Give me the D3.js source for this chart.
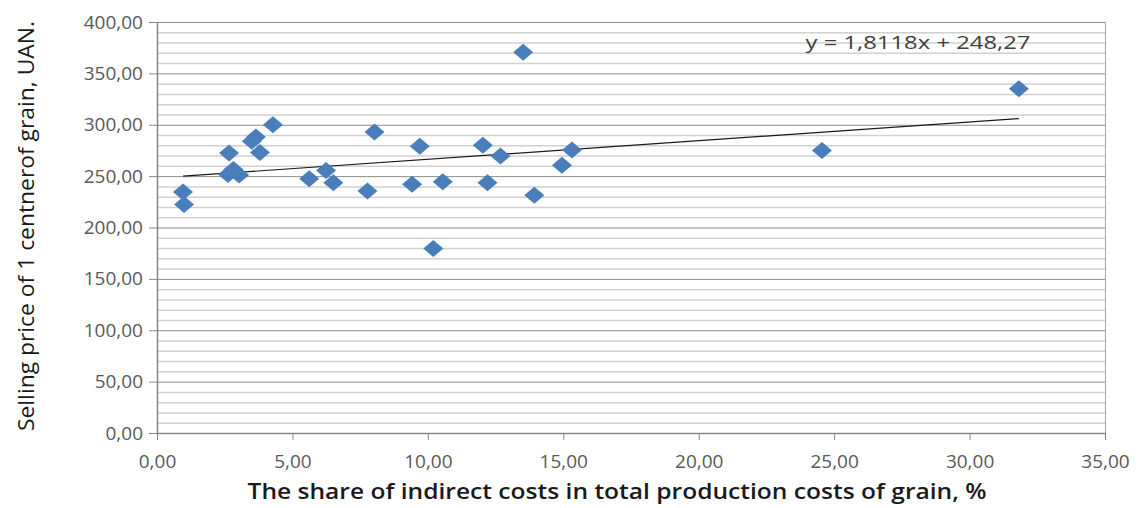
<!DOCTYPE html>
<html lang="en">
<head>
  <meta charset="utf-8">
  <title>Selling price vs indirect costs</title>
  <script src="https://d3js.org/d3.v7.min.js"></script>
  <style>
    body { margin: 0; background: #fff; }
    .axis path, .axis line { stroke: #868686; }
  </style>
</head>
<body>
  <div id="chart"></div>
  <script>
    "use strict"

    // share of indirect costs, %
    var shareValues = [0.96, 1.0, 2.62, 2.66, 2.82, 3.03, 3.5, 3.65, 3.8, 4.28,
                       5.62, 6.24, 6.51, 7.77, 8.03, 9.42, 9.7, 10.55, 10.2, 12.03,
                       12.2, 12.68, 13.52, 13.93, 14.95, 15.32, 24.55, 31.82];
    // selling price of 1 centner, UAN
    var priceValues = [234.5, 222.5, 251.5, 272.5, 256.5, 251, 284, 288, 273, 300,
                       247.5, 255.5, 243.5, 235.5, 293, 242, 279, 244.5, 179.5, 280,
                       243.5, 269.5, 370.5, 231.5, 260.5, 275.5, 275, 335];
    var trend = { slope: 1.8118, intercept: 248.27 };
    var xTicks = [0, 5, 10, 15, 20, 25, 30, 35];
    var yTicks = [0, 50, 100, 150, 200, 250, 300, 350, 400];
    var yMinor = d3.range(0, 401, 10);

    var fmt = function(v) { return d3.format(".2f")(v).replace(".", ","); };
    var tickFont = "'Open Sans', sans-serif";

    var W = 1145, H = 508;
    var margin = {top: 22, right: 40, bottom: 75, left: 157};
    var w = W - margin.left - margin.right,
        h = H - margin.top - margin.bottom;

    var svg = d3.select("#chart").append("svg")
        .attr("width", W).attr("height", H);
    var g = svg.append("g")
        .attr("transform", "translate(" + margin.left + "," + margin.top + ")");

    var x = d3.scaleLinear().domain([0, 35]).range([0, w]);
    var y = d3.scaleLinear().domain([0, 400]).range([h, 0]);

    // minor gridlines
    g.selectAll(".minor").data(yMinor.filter(function(d) { return d % 50 !== 0; }))
      .enter().append("line")
        .attr("x1", 0).attr("x2", w)
        .attr("y1", function(d) { return y(d) + 0.5; })
        .attr("y2", function(d) { return y(d) + 0.5; })
        .attr("stroke", "#d0d0d0").attr("stroke-width", 1.5);

    // major gridlines
    g.selectAll(".major").data(yTicks.slice(1))
      .enter().append("line")
        .attr("x1", 0).attr("x2", w)
        .attr("y1", function(d) { return y(d) + 0.5; })
        .attr("y2", function(d) { return y(d) + 0.5; })
        .attr("stroke", "#8c8c8c").attr("stroke-width", 1);

    // right border
    g.append("line")
      .attr("x1", w + 0.5).attr("x2", w + 0.5).attr("y1", 0).attr("y2", h)
      .attr("stroke", "#a6a6a6");

    var xAxis = g.append("g").attr("class", "axis")
      .attr("transform", "translate(0," + h + ")")
      .call(d3.axisBottom(x).tickValues(xTicks).tickFormat(fmt).tickSize(7).tickSizeOuter(0).tickPadding(15));
    xAxis.select(".domain").attr("stroke-width", 1.5);

    var yAxis = g.append("g").attr("class", "axis")
      .call(d3.axisLeft(y).tickValues(yTicks).tickFormat(fmt).tickSize(8).tickSizeOuter(0).tickPadding(6));
    yAxis.select(".domain").attr("stroke-width", 1.5);

    svg.selectAll(".axis text")
      .attr("font-family", tickFont)
      .attr("font-size", 19)
      .attr("fill", "#595959");

    // trendline
    var xr = d3.extent(shareValues);
    g.append("line")
      .attr("x1", x(xr[0])).attr("y1", y(trend.slope * xr[0] + trend.intercept))
      .attr("x2", x(xr[1])).attr("y2", y(trend.slope * xr[1] + trend.intercept))
      .attr("stroke", "#1a1a1a").attr("stroke-width", 1.2);

    // points
    g.selectAll(".pt").data(shareValues)
      .enter().append("path")
        .attr("d", "M-10,0L0,-8.5L10,0L0,8.5Z")
        .attr("transform", function(d, i) { return "translate(" + x(d) + "," + y(priceValues[i]) + ")"; })
        .attr("fill", "#4a7ebb");

    g.append("text")
      .attr("x", 918 - margin.left).attr("y", 27)
      .attr("text-anchor", "middle")
      .attr("textLength", 225).attr("lengthAdjust", "spacingAndGlyphs")
      .attr("font-family", tickFont)
      .attr("font-size", 19)
      .attr("fill", "#404040")
      .text("y = 1,8118x + 248,27");

    svg.append("text")
      .attr("x", 617).attr("y", 499)
      .attr("text-anchor", "middle")
      .attr("textLength", 739).attr("lengthAdjust", "spacingAndGlyphs")
      .style("font", "600 21px 'Open Sans', sans-serif")
      .attr("fill", "#1a1a1a")
      .text("The share of indirect costs in total production costs of grain, %");

    svg.append("text")
      .attr("transform", "translate(34," + 226 + ") rotate(-90)")
      .attr("text-anchor", "middle")
      .attr("textLength", 410).attr("lengthAdjust", "spacingAndGlyphs")
      .style("font", "500 21.5px 'Open Sans', sans-serif")
      .attr("fill", "#1a1a1a")
      .text("Selling price of 1 centnerof grain, UAN.");
  </script>
</body>
</html>
